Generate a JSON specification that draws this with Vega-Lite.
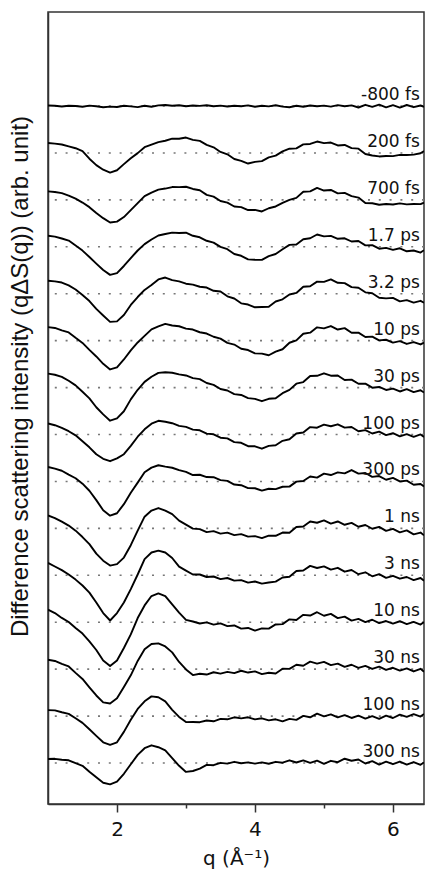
{
"$schema":"https://vega.github.io/schema/vega-lite/v6.json",
"width":376,"height":792,
"autosize":{"type":"none"},
"padding":{"left":48,"top":12,"right":1,"bottom":75},
"config":{"view":{"stroke":"#333","strokeWidth":1.5},"font":"DejaVu Sans"},
"datasets":{
"series":[{"s":"-800 fs","k":0},{"s":"200 fs","k":1},{"s":"700 fs","k":2},{"s":"1.7 ps","k":3},{"s":"3.2 ps","k":4},{"s":"10 ps","k":5},{"s":"30 ps","k":6},{"s":"100 ps","k":7},{"s":"300 ps","k":8},{"s":"1 ns","k":9},{"s":"3 ns","k":10},{"s":"10 ns","k":11},{"s":"30 ns","k":12},{"s":"100 ns","k":13},{"s":"300 ns","k":14}],
"pts":[
{"s":"-800 fs","q":1.0,"v":0.5},{"s":"-800 fs","q":1.1,"v":0.2},{"s":"-800 fs","q":1.2,"v":-0.5},{"s":"-800 fs","q":1.3,"v":0.3},{"s":"-800 fs","q":1.4,"v":0},{"s":"-800 fs","q":1.5,"v":-0.8},{"s":"-800 fs","q":1.6,"v":0.4},{"s":"-800 fs","q":1.7,"v":-0.3},{"s":"-800 fs","q":1.8,"v":-1.2},{"s":"-800 fs","q":1.9,"v":-0.6},{"s":"-800 fs","q":2.0,"v":-1.0},{"s":"-800 fs","q":2.1,"v":0.2},{"s":"-800 fs","q":2.2,"v":-0.4},{"s":"-800 fs","q":2.3,"v":-1.1},{"s":"-800 fs","q":2.4,"v":0.3},{"s":"-800 fs","q":2.5,"v":-0.8},{"s":"-800 fs","q":2.6,"v":0.6},{"s":"-800 fs","q":2.7,"v":1.0},{"s":"-800 fs","q":2.8,"v":0.2},{"s":"-800 fs","q":2.9,"v":0.8},{"s":"-800 fs","q":3.0,"v":-0.2},{"s":"-800 fs","q":3.1,"v":0.5},{"s":"-800 fs","q":3.2,"v":0.1},{"s":"-800 fs","q":3.3,"v":0.7},{"s":"-800 fs","q":3.4,"v":-0.3},{"s":"-800 fs","q":3.5,"v":0.4},{"s":"-800 fs","q":3.6,"v":-0.5},{"s":"-800 fs","q":3.7,"v":0.2},{"s":"-800 fs","q":3.8,"v":-0.2},{"s":"-800 fs","q":3.9,"v":0.6},{"s":"-800 fs","q":4.0,"v":-0.7},{"s":"-800 fs","q":4.1,"v":0.3},{"s":"-800 fs","q":4.2,"v":-0.4},{"s":"-800 fs","q":4.3,"v":0.8},{"s":"-800 fs","q":4.4,"v":-0.6},{"s":"-800 fs","q":4.5,"v":-1.2},{"s":"-800 fs","q":4.6,"v":0.2},{"s":"-800 fs","q":4.7,"v":-0.8},{"s":"-800 fs","q":4.8,"v":0.5},{"s":"-800 fs","q":4.9,"v":-0.3},{"s":"-800 fs","q":5.0,"v":0.4},{"s":"-800 fs","q":5.1,"v":-0.6},{"s":"-800 fs","q":5.2,"v":0.9},{"s":"-800 fs","q":5.3,"v":-0.2},{"s":"-800 fs","q":5.4,"v":0.6},{"s":"-800 fs","q":5.5,"v":-1.5},{"s":"-800 fs","q":5.6,"v":1.2},{"s":"-800 fs","q":5.7,"v":-0.9},{"s":"-800 fs","q":5.8,"v":1.4},{"s":"-800 fs","q":5.9,"v":-1.3},{"s":"-800 fs","q":6.0,"v":0.8},{"s":"-800 fs","q":6.1,"v":-1.6},{"s":"-800 fs","q":6.2,"v":1.0},{"s":"-800 fs","q":6.3,"v":-1.2},{"s":"-800 fs","q":6.4,"v":0.5},{"s":"-800 fs","q":6.45,"v":-0.8},
{"s":"200 fs","q":1.0,"v":10},{"s":"200 fs","q":1.1,"v":9.3},{"s":"200 fs","q":1.2,"v":8.4},{"s":"200 fs","q":1.3,"v":6.6},{"s":"200 fs","q":1.4,"v":4.7},{"s":"200 fs","q":1.5,"v":1.8},{"s":"200 fs","q":1.6,"v":-5.8},{"s":"200 fs","q":1.7,"v":-12.2},{"s":"200 fs","q":1.8,"v":-16.8},{"s":"200 fs","q":1.9,"v":-19.6},{"s":"200 fs","q":2.0,"v":-17.3},{"s":"200 fs","q":2.1,"v":-11.2},{"s":"200 fs","q":2.2,"v":-5.3},{"s":"200 fs","q":2.3,"v":-0.2},{"s":"200 fs","q":2.4,"v":5.7},{"s":"200 fs","q":2.5,"v":8.3},{"s":"200 fs","q":2.6,"v":10.8},{"s":"200 fs","q":2.7,"v":12.2},{"s":"200 fs","q":2.8,"v":14.3},{"s":"200 fs","q":2.9,"v":14.2},{"s":"200 fs","q":3.0,"v":15.4},{"s":"200 fs","q":3.1,"v":13.1},{"s":"200 fs","q":3.2,"v":12.0},{"s":"200 fs","q":3.3,"v":8.1},{"s":"200 fs","q":3.4,"v":5.6},{"s":"200 fs","q":3.5,"v":1.0},{"s":"200 fs","q":3.6,"v":-1.4},{"s":"200 fs","q":3.7,"v":-6.1},{"s":"200 fs","q":3.8,"v":-8.0},{"s":"200 fs","q":3.9,"v":-10.6},{"s":"200 fs","q":4.0,"v":-9.0},{"s":"200 fs","q":4.1,"v":-8.2},{"s":"200 fs","q":4.2,"v":-4.4},{"s":"200 fs","q":4.3,"v":-2.7},{"s":"200 fs","q":4.4,"v":1.6},{"s":"200 fs","q":4.5,"v":4.2},{"s":"200 fs","q":4.6,"v":4.6},{"s":"200 fs","q":4.7,"v":8.6},{"s":"200 fs","q":4.8,"v":9.0},{"s":"200 fs","q":4.9,"v":11.4},{"s":"200 fs","q":5.0,"v":9.8},{"s":"200 fs","q":5.1,"v":10.4},{"s":"200 fs","q":5.2,"v":7.5},{"s":"200 fs","q":5.3,"v":8.0},{"s":"200 fs","q":5.4,"v":4.8},{"s":"200 fs","q":5.5,"v":4.3},{"s":"200 fs","q":5.6,"v":-1.1},{"s":"200 fs","q":5.7,"v":-2.6},{"s":"200 fs","q":5.8,"v":-3.5},{"s":"200 fs","q":5.9,"v":-3.0},{"s":"200 fs","q":6.0,"v":-3.2},{"s":"200 fs","q":6.1,"v":-2.0},{"s":"200 fs","q":6.2,"v":-2.0},{"s":"200 fs","q":6.3,"v":-1.7},{"s":"200 fs","q":6.4,"v":-0.3},{"s":"200 fs","q":6.45,"v":1.8},
{"s":"700 fs","q":1.0,"v":8.5},{"s":"700 fs","q":1.1,"v":7.8},{"s":"700 fs","q":1.2,"v":6.7},{"s":"700 fs","q":1.3,"v":4.3},{"s":"700 fs","q":1.4,"v":1.2},{"s":"700 fs","q":1.5,"v":-2.7},{"s":"700 fs","q":1.6,"v":-7.3},{"s":"700 fs","q":1.7,"v":-13.2},{"s":"700 fs","q":1.8,"v":-18.3},{"s":"700 fs","q":1.9,"v":-22.7},{"s":"700 fs","q":2.0,"v":-21.8},{"s":"700 fs","q":2.1,"v":-17.2},{"s":"700 fs","q":2.2,"v":-10.3},{"s":"700 fs","q":2.3,"v":-3.2},{"s":"700 fs","q":2.4,"v":3.7},{"s":"700 fs","q":2.5,"v":7.3},{"s":"700 fs","q":2.6,"v":10.2},{"s":"700 fs","q":2.7,"v":11.3},{"s":"700 fs","q":2.8,"v":12.8},{"s":"700 fs","q":2.9,"v":12.7},{"s":"700 fs","q":3.0,"v":13.1},{"s":"700 fs","q":3.1,"v":10.9},{"s":"700 fs","q":3.2,"v":9.6},{"s":"700 fs","q":3.3,"v":5.0},{"s":"700 fs","q":3.4,"v":3.2},{"s":"700 fs","q":3.5,"v":-1.1},{"s":"700 fs","q":3.6,"v":-2.8},{"s":"700 fs","q":3.7,"v":-6.6},{"s":"700 fs","q":3.8,"v":-7.3},{"s":"700 fs","q":3.9,"v":-10.2},{"s":"700 fs","q":4.0,"v":-10.0},{"s":"700 fs","q":4.1,"v":-11.6},{"s":"700 fs","q":4.2,"v":-8.4},{"s":"700 fs","q":4.3,"v":-6.6},{"s":"700 fs","q":4.4,"v":-3.0},{"s":"700 fs","q":4.5,"v":-0.1},{"s":"700 fs","q":4.6,"v":2.0},{"s":"700 fs","q":4.7,"v":8.1},{"s":"700 fs","q":4.8,"v":8.5},{"s":"700 fs","q":4.9,"v":11.9},{"s":"700 fs","q":5.0,"v":9.3},{"s":"700 fs","q":5.1,"v":9.9},{"s":"700 fs","q":5.2,"v":6.5},{"s":"700 fs","q":5.3,"v":7.0},{"s":"700 fs","q":5.4,"v":3.8},{"s":"700 fs","q":5.5,"v":2.3},{"s":"700 fs","q":5.6,"v":-3.1},{"s":"700 fs","q":5.7,"v":-3.4},{"s":"700 fs","q":5.8,"v":-4.9},{"s":"700 fs","q":5.9,"v":-4.1},{"s":"700 fs","q":6.0,"v":-4.6},{"s":"700 fs","q":6.1,"v":-3.5},{"s":"700 fs","q":6.2,"v":-4.5},{"s":"700 fs","q":6.3,"v":-4.2},{"s":"700 fs","q":6.4,"v":-4.3},{"s":"700 fs","q":6.45,"v":-2.8},
{"s":"1.7 ps","q":1.0,"v":11},{"s":"1.7 ps","q":1.1,"v":10.2},{"s":"1.7 ps","q":1.2,"v":8.3},{"s":"1.7 ps","q":1.3,"v":6.2},{"s":"1.7 ps","q":1.4,"v":1.3},{"s":"1.7 ps","q":1.5,"v":-3.8},{"s":"1.7 ps","q":1.6,"v":-10.2},{"s":"1.7 ps","q":1.7,"v":-16.8},{"s":"1.7 ps","q":1.8,"v":-23.2},{"s":"1.7 ps","q":1.9,"v":-28.1},{"s":"1.7 ps","q":2.0,"v":-26.3},{"s":"1.7 ps","q":2.1,"v":-19.2},{"s":"1.7 ps","q":2.2,"v":-11.3},{"s":"1.7 ps","q":2.3,"v":-3.7},{"s":"1.7 ps","q":2.4,"v":2.7},{"s":"1.7 ps","q":2.5,"v":7.3},{"s":"1.7 ps","q":2.6,"v":11.3},{"s":"1.7 ps","q":2.7,"v":12.8},{"s":"1.7 ps","q":2.8,"v":14.2},{"s":"1.7 ps","q":2.9,"v":13.8},{"s":"1.7 ps","q":3.0,"v":14.1},{"s":"1.7 ps","q":3.1,"v":11.0},{"s":"1.7 ps","q":3.2,"v":9.5},{"s":"1.7 ps","q":3.3,"v":6.0},{"s":"1.7 ps","q":3.4,"v":4.2},{"s":"1.7 ps","q":3.5,"v":-0.1},{"s":"1.7 ps","q":3.6,"v":-2.4},{"s":"1.7 ps","q":3.7,"v":-7.2},{"s":"1.7 ps","q":3.8,"v":-9.0},{"s":"1.7 ps","q":3.9,"v":-12.6},{"s":"1.7 ps","q":4.0,"v":-13.0},{"s":"1.7 ps","q":4.1,"v":-13.1},{"s":"1.7 ps","q":4.2,"v":-9.4},{"s":"1.7 ps","q":4.3,"v":-7.2},{"s":"1.7 ps","q":4.4,"v":-2.5},{"s":"1.7 ps","q":4.5,"v":1.9},{"s":"1.7 ps","q":4.6,"v":2.3},{"s":"1.7 ps","q":4.7,"v":7.6},{"s":"1.7 ps","q":4.8,"v":8.5},{"s":"1.7 ps","q":4.9,"v":12.3},{"s":"1.7 ps","q":5.0,"v":10.4},{"s":"1.7 ps","q":5.1,"v":10.9},{"s":"1.7 ps","q":5.2,"v":8.0},{"s":"1.7 ps","q":5.3,"v":8.5},{"s":"1.7 ps","q":5.4,"v":5.3},{"s":"1.7 ps","q":5.5,"v":5.8},{"s":"1.7 ps","q":5.6,"v":1.4},{"s":"1.7 ps","q":5.7,"v":1.6},{"s":"1.7 ps","q":5.8,"v":-1.9},{"s":"1.7 ps","q":5.9,"v":-1.1},{"s":"1.7 ps","q":6.0,"v":-3.1},{"s":"1.7 ps","q":6.1,"v":-1.5},{"s":"1.7 ps","q":6.2,"v":-4.5},{"s":"1.7 ps","q":6.3,"v":-3.7},{"s":"1.7 ps","q":6.4,"v":-5.8},{"s":"1.7 ps","q":6.45,"v":-3.4},
{"s":"3.2 ps","q":1.0,"v":13},{"s":"3.2 ps","q":1.1,"v":12.3},{"s":"3.2 ps","q":1.2,"v":11.2},{"s":"3.2 ps","q":1.3,"v":8.3},{"s":"3.2 ps","q":1.4,"v":4.2},{"s":"3.2 ps","q":1.5,"v":-1.2},{"s":"3.2 ps","q":1.6,"v":-7.3},{"s":"3.2 ps","q":1.7,"v":-15.2},{"s":"3.2 ps","q":1.8,"v":-21.8},{"s":"3.2 ps","q":1.9,"v":-28.2},{"s":"3.2 ps","q":2.0,"v":-27.7},{"s":"3.2 ps","q":2.1,"v":-21.3},{"s":"3.2 ps","q":2.2,"v":-11.2},{"s":"3.2 ps","q":2.3,"v":-3.3},{"s":"3.2 ps","q":2.4,"v":3.8},{"s":"3.2 ps","q":2.5,"v":8.7},{"s":"3.2 ps","q":2.6,"v":14.3},{"s":"3.2 ps","q":2.7,"v":16.2},{"s":"3.2 ps","q":2.8,"v":13.6},{"s":"3.2 ps","q":2.9,"v":12.4},{"s":"3.2 ps","q":3.0,"v":10.0},{"s":"3.2 ps","q":3.1,"v":9.1},{"s":"3.2 ps","q":3.2,"v":7.0},{"s":"3.2 ps","q":3.3,"v":6.2},{"s":"3.2 ps","q":3.4,"v":2.9},{"s":"3.2 ps","q":3.5,"v":2.2},{"s":"3.2 ps","q":3.6,"v":-2.6},{"s":"3.2 ps","q":3.7,"v":-4.8},{"s":"3.2 ps","q":3.8,"v":-9.6},{"s":"3.2 ps","q":3.9,"v":-10.8},{"s":"3.2 ps","q":4.0,"v":-13.6},{"s":"3.2 ps","q":4.1,"v":-13.3},{"s":"3.2 ps","q":4.2,"v":-13.0},{"s":"3.2 ps","q":4.3,"v":-7.8},{"s":"3.2 ps","q":4.4,"v":-5.6},{"s":"3.2 ps","q":4.5,"v":-0.8},{"s":"3.2 ps","q":4.6,"v":0.8},{"s":"3.2 ps","q":4.7,"v":6.9},{"s":"3.2 ps","q":4.8,"v":7.5},{"s":"3.2 ps","q":4.9,"v":12.1},{"s":"3.2 ps","q":5.0,"v":11.8},{"s":"3.2 ps","q":5.1,"v":14.3},{"s":"3.2 ps","q":5.2,"v":10.9},{"s":"3.2 ps","q":5.3,"v":10.6},{"s":"3.2 ps","q":5.4,"v":6.6},{"s":"3.2 ps","q":5.5,"v":5.9},{"s":"3.2 ps","q":5.6,"v":1.4},{"s":"3.2 ps","q":5.7,"v":0.5},{"s":"3.2 ps","q":5.8,"v":-4.0},{"s":"3.2 ps","q":5.9,"v":-4.7},{"s":"3.2 ps","q":6.0,"v":-4.2},{"s":"3.2 ps","q":6.1,"v":-7.6},{"s":"3.2 ps","q":6.2,"v":-6.4},{"s":"3.2 ps","q":6.3,"v":-8.9},{"s":"3.2 ps","q":6.4,"v":-7.1},{"s":"3.2 ps","q":6.45,"v":-9.0},
{"s":"10 ps","q":1.0,"v":13.5},{"s":"10 ps","q":1.1,"v":12.7},{"s":"10 ps","q":1.2,"v":10.3},{"s":"10 ps","q":1.3,"v":8.2},{"s":"10 ps","q":1.4,"v":2.8},{"s":"10 ps","q":1.5,"v":-2.3},{"s":"10 ps","q":1.6,"v":-9.2},{"s":"10 ps","q":1.7,"v":-15.8},{"s":"10 ps","q":1.8,"v":-23.2},{"s":"10 ps","q":1.9,"v":-28.8},{"s":"10 ps","q":2.0,"v":-26.7},{"s":"10 ps","q":2.1,"v":-18.8},{"s":"10 ps","q":2.2,"v":-9.7},{"s":"10 ps","q":2.3,"v":-1.8},{"s":"10 ps","q":2.4,"v":4.8},{"s":"10 ps","q":2.5,"v":11.3},{"s":"10 ps","q":2.6,"v":14.2},{"s":"10 ps","q":2.7,"v":16.8},{"s":"10 ps","q":2.8,"v":15.2},{"s":"10 ps","q":2.9,"v":14.4},{"s":"10 ps","q":3.0,"v":12.0},{"s":"10 ps","q":3.1,"v":11.1},{"s":"10 ps","q":3.2,"v":8.4},{"s":"10 ps","q":3.3,"v":7.1},{"s":"10 ps","q":3.4,"v":3.9},{"s":"10 ps","q":3.5,"v":2.0},{"s":"10 ps","q":3.6,"v":-2.2},{"s":"10 ps","q":3.7,"v":-3.9},{"s":"10 ps","q":3.8,"v":-8.1},{"s":"10 ps","q":3.9,"v":-9.4},{"s":"10 ps","q":4.0,"v":-12.7},{"s":"10 ps","q":4.1,"v":-13.0},{"s":"10 ps","q":4.2,"v":-14.6},{"s":"10 ps","q":4.3,"v":-11.0},{"s":"10 ps","q":4.4,"v":-8.6},{"s":"10 ps","q":4.5,"v":-2.1},{"s":"10 ps","q":4.6,"v":0.3},{"s":"10 ps","q":4.7,"v":6.9},{"s":"10 ps","q":4.8,"v":8.0},{"s":"10 ps","q":4.9,"v":13.3},{"s":"10 ps","q":5.0,"v":12.3},{"s":"10 ps","q":5.1,"v":14.6},{"s":"10 ps","q":5.2,"v":11.1},{"s":"10 ps","q":5.3,"v":12.5},{"s":"10 ps","q":5.4,"v":7.9},{"s":"10 ps","q":5.5,"v":8.0},{"s":"10 ps","q":5.6,"v":3.6},{"s":"10 ps","q":5.7,"v":4.0},{"s":"10 ps","q":5.8,"v":0.3},{"s":"10 ps","q":5.9,"v":0.9},{"s":"10 ps","q":6.0,"v":-2.0},{"s":"10 ps","q":6.1,"v":-0.5},{"s":"10 ps","q":6.2,"v":-3.3},{"s":"10 ps","q":6.3,"v":-1.4},{"s":"10 ps","q":6.4,"v":-3.8},{"s":"10 ps","q":6.45,"v":-1.9},
{"s":"30 ps","q":1.0,"v":14},{"s":"30 ps","q":1.1,"v":12.8},{"s":"30 ps","q":1.2,"v":10.7},{"s":"30 ps","q":1.3,"v":6.8},{"s":"30 ps","q":1.4,"v":2.2},{"s":"30 ps","q":1.5,"v":-4.2},{"s":"30 ps","q":1.6,"v":-10.8},{"s":"30 ps","q":1.7,"v":-19.7},{"s":"30 ps","q":1.8,"v":-26.8},{"s":"30 ps","q":1.9,"v":-33.1},{"s":"30 ps","q":2.0,"v":-30.8},{"s":"30 ps","q":2.1,"v":-23.7},{"s":"30 ps","q":2.2,"v":-11.8},{"s":"30 ps","q":2.3,"v":-2.2},{"s":"30 ps","q":2.4,"v":5.7},{"s":"30 ps","q":2.5,"v":10.8},{"s":"30 ps","q":2.6,"v":14.7},{"s":"30 ps","q":2.7,"v":15.3},{"s":"30 ps","q":2.8,"v":14.8},{"s":"30 ps","q":2.9,"v":13.2},{"s":"30 ps","q":3.0,"v":12.1},{"s":"30 ps","q":3.1,"v":9.4},{"s":"30 ps","q":3.2,"v":8.5},{"s":"30 ps","q":3.3,"v":4.6},{"s":"30 ps","q":3.4,"v":2.7},{"s":"30 ps","q":3.5,"v":-1.4},{"s":"30 ps","q":3.6,"v":-2.9},{"s":"30 ps","q":3.7,"v":-6.6},{"s":"30 ps","q":3.8,"v":-7.4},{"s":"30 ps","q":3.9,"v":-10.5},{"s":"30 ps","q":4.0,"v":-11.3},{"s":"30 ps","q":4.1,"v":-13.6},{"s":"30 ps","q":4.2,"v":-11.2},{"s":"30 ps","q":4.3,"v":-10.7},{"s":"30 ps","q":4.4,"v":-5.6},{"s":"30 ps","q":4.5,"v":-2.3},{"s":"30 ps","q":4.6,"v":3.9},{"s":"30 ps","q":4.7,"v":5.5},{"s":"30 ps","q":4.8,"v":11.6},{"s":"30 ps","q":4.9,"v":11.8},{"s":"30 ps","q":5.0,"v":14.3},{"s":"30 ps","q":5.1,"v":11.9},{"s":"30 ps","q":5.2,"v":12.1},{"s":"30 ps","q":5.3,"v":7.6},{"s":"30 ps","q":5.4,"v":8.0},{"s":"30 ps","q":5.5,"v":3.8},{"s":"30 ps","q":5.6,"v":4.0},{"s":"30 ps","q":5.7,"v":-0.1},{"s":"30 ps","q":5.8,"v":0.6},{"s":"30 ps","q":5.9,"v":-2.4},{"s":"30 ps","q":6.0,"v":-1.1},{"s":"30 ps","q":6.1,"v":-3.9},{"s":"30 ps","q":6.2,"v":-1.5},{"s":"30 ps","q":6.3,"v":-4.5},{"s":"30 ps","q":6.4,"v":-2.7},{"s":"30 ps","q":6.45,"v":-5.0},
{"s":"100 ps","q":1.0,"v":11},{"s":"100 ps","q":1.1,"v":9.3},{"s":"100 ps","q":1.2,"v":6.7},{"s":"100 ps","q":1.3,"v":3.3},{"s":"100 ps","q":1.4,"v":-0.8},{"s":"100 ps","q":1.5,"v":-6.7},{"s":"100 ps","q":1.6,"v":-12.8},{"s":"100 ps","q":1.7,"v":-19.7},{"s":"100 ps","q":1.8,"v":-24.3},{"s":"100 ps","q":1.9,"v":-26.7},{"s":"100 ps","q":2.0,"v":-23.8},{"s":"100 ps","q":2.1,"v":-19.7},{"s":"100 ps","q":2.2,"v":-11.3},{"s":"100 ps","q":2.3,"v":-2.2},{"s":"100 ps","q":2.4,"v":5.2},{"s":"100 ps","q":2.5,"v":10.8},{"s":"100 ps","q":2.6,"v":13.7},{"s":"100 ps","q":2.7,"v":12.8},{"s":"100 ps","q":2.8,"v":11.3},{"s":"100 ps","q":2.9,"v":8.6},{"s":"100 ps","q":3.0,"v":7.6},{"s":"100 ps","q":3.1,"v":4.9},{"s":"100 ps","q":3.2,"v":4.2},{"s":"100 ps","q":3.3,"v":0.9},{"s":"100 ps","q":3.4,"v":0.2},{"s":"100 ps","q":3.5,"v":-3.2},{"s":"100 ps","q":3.6,"v":-3.9},{"s":"100 ps","q":3.7,"v":-7.6},{"s":"100 ps","q":3.8,"v":-8.3},{"s":"100 ps","q":3.9,"v":-11.7},{"s":"100 ps","q":4.0,"v":-11.8},{"s":"100 ps","q":4.1,"v":-14.2},{"s":"100 ps","q":4.2,"v":-11.4},{"s":"100 ps","q":4.3,"v":-10.8},{"s":"100 ps","q":4.4,"v":-6.3},{"s":"100 ps","q":4.5,"v":-4.7},{"s":"100 ps","q":4.6,"v":1.0},{"s":"100 ps","q":4.7,"v":2.0},{"s":"100 ps","q":4.8,"v":7.4},{"s":"100 ps","q":4.9,"v":6.8},{"s":"100 ps","q":5.0,"v":9.9},{"s":"100 ps","q":5.1,"v":8.3},{"s":"100 ps","q":5.2,"v":10.2},{"s":"100 ps","q":5.3,"v":6.9},{"s":"100 ps","q":5.4,"v":7.5},{"s":"100 ps","q":5.5,"v":3.2},{"s":"100 ps","q":5.6,"v":4.4},{"s":"100 ps","q":5.7,"v":1.0},{"s":"100 ps","q":5.8,"v":2.9},{"s":"100 ps","q":5.9,"v":-0.6},{"s":"100 ps","q":6.0,"v":1.3},{"s":"100 ps","q":6.1,"v":-1.8},{"s":"100 ps","q":6.2,"v":0.3},{"s":"100 ps","q":6.3,"v":-2.3},{"s":"100 ps","q":6.4,"v":0.1},{"s":"100 ps","q":6.45,"v":-2.5},
{"s":"300 ps","q":1.0,"v":14.5},{"s":"300 ps","q":1.1,"v":12.8},{"s":"300 ps","q":1.2,"v":10.7},{"s":"300 ps","q":1.3,"v":6.8},{"s":"300 ps","q":1.4,"v":3.2},{"s":"300 ps","q":1.5,"v":-2.2},{"s":"300 ps","q":1.6,"v":-9.3},{"s":"300 ps","q":1.7,"v":-18.7},{"s":"300 ps","q":1.8,"v":-28.8},{"s":"300 ps","q":1.9,"v":-34.2},{"s":"300 ps","q":2.0,"v":-31.8},{"s":"300 ps","q":2.1,"v":-22.7},{"s":"300 ps","q":2.2,"v":-11.3},{"s":"300 ps","q":2.3,"v":-1.2},{"s":"300 ps","q":2.4,"v":9.2},{"s":"300 ps","q":2.5,"v":13.8},{"s":"300 ps","q":2.6,"v":16.2},{"s":"300 ps","q":2.7,"v":14.8},{"s":"300 ps","q":2.8,"v":13.7},{"s":"300 ps","q":2.9,"v":11.3},{"s":"300 ps","q":3.0,"v":9.6},{"s":"300 ps","q":3.1,"v":6.4},{"s":"300 ps","q":3.2,"v":6.7},{"s":"300 ps","q":3.3,"v":4.4},{"s":"300 ps","q":3.4,"v":4.2},{"s":"300 ps","q":3.5,"v":1.3},{"s":"300 ps","q":3.6,"v":0.6},{"s":"300 ps","q":3.7,"v":-3.1},{"s":"300 ps","q":3.8,"v":-3.8},{"s":"300 ps","q":3.9,"v":-6.7},{"s":"300 ps","q":4.0,"v":-6.8},{"s":"300 ps","q":4.1,"v":-9.2},{"s":"300 ps","q":4.2,"v":-7.3},{"s":"300 ps","q":4.3,"v":-7.7},{"s":"300 ps","q":4.4,"v":-5.3},{"s":"300 ps","q":4.5,"v":-5.2},{"s":"300 ps","q":4.6,"v":-0.2},{"s":"300 ps","q":4.7,"v":0.4},{"s":"300 ps","q":4.8,"v":4.9},{"s":"300 ps","q":4.9,"v":3.8},{"s":"300 ps","q":5.0,"v":7.8},{"s":"300 ps","q":5.1,"v":6.4},{"s":"300 ps","q":5.2,"v":9.1},{"s":"300 ps","q":5.3,"v":8.1},{"s":"300 ps","q":5.4,"v":11.4},{"s":"300 ps","q":5.5,"v":7.8},{"s":"300 ps","q":5.6,"v":8.4},{"s":"300 ps","q":5.7,"v":4.6},{"s":"300 ps","q":5.8,"v":5.4},{"s":"300 ps","q":5.9,"v":1.7},{"s":"300 ps","q":6.0,"v":3.5},{"s":"300 ps","q":6.1,"v":0.0},{"s":"300 ps","q":6.2,"v":0.8},{"s":"300 ps","q":6.3,"v":-3.3},{"s":"300 ps","q":6.4,"v":-2.6},{"s":"300 ps","q":6.45,"v":-5.1},
{"s":"1 ns","q":1.0,"v":13},{"s":"1 ns","q":1.1,"v":10.3},{"s":"1 ns","q":1.2,"v":6.7},{"s":"1 ns","q":1.3,"v":2.8},{"s":"1 ns","q":1.4,"v":-2.3},{"s":"1 ns","q":1.5,"v":-8.7},{"s":"1 ns","q":1.6,"v":-15.8},{"s":"1 ns","q":1.7,"v":-25.2},{"s":"1 ns","q":1.8,"v":-32.3},{"s":"1 ns","q":1.9,"v":-37.2},{"s":"1 ns","q":2.0,"v":-35.8},{"s":"1 ns","q":2.1,"v":-29.2},{"s":"1 ns","q":2.2,"v":-16.8},{"s":"1 ns","q":2.3,"v":-2.2},{"s":"1 ns","q":2.4,"v":11.7},{"s":"1 ns","q":2.5,"v":17.8},{"s":"1 ns","q":2.6,"v":20.3},{"s":"1 ns","q":2.7,"v":17.7},{"s":"1 ns","q":2.8,"v":14.2},{"s":"1 ns","q":2.9,"v":7.7},{"s":"1 ns","q":3.0,"v":3.7},{"s":"1 ns","q":3.1,"v":-0.3},{"s":"1 ns","q":3.2,"v":-0.8},{"s":"1 ns","q":3.3,"v":-3.8},{"s":"1 ns","q":3.4,"v":-2.8},{"s":"1 ns","q":3.5,"v":-5.3},{"s":"1 ns","q":3.6,"v":-4.3},{"s":"1 ns","q":3.7,"v":-6.8},{"s":"1 ns","q":3.8,"v":-5.8},{"s":"1 ns","q":3.9,"v":-8.3},{"s":"1 ns","q":4.0,"v":-7.8},{"s":"1 ns","q":4.1,"v":-9.8},{"s":"1 ns","q":4.2,"v":-7.3},{"s":"1 ns","q":4.3,"v":-7.4},{"s":"1 ns","q":4.4,"v":-4.2},{"s":"1 ns","q":4.5,"v":-4.4},{"s":"1 ns","q":4.6,"v":1.3},{"s":"1 ns","q":4.7,"v":1.8},{"s":"1 ns","q":4.8,"v":6.9},{"s":"1 ns","q":4.9,"v":5.6},{"s":"1 ns","q":5.0,"v":7.9},{"s":"1 ns","q":5.1,"v":4.8},{"s":"1 ns","q":5.2,"v":6.9},{"s":"1 ns","q":5.3,"v":3.6},{"s":"1 ns","q":5.4,"v":5.5},{"s":"1 ns","q":5.5,"v":1.6},{"s":"1 ns","q":5.6,"v":3.4},{"s":"1 ns","q":5.7,"v":-0.4},{"s":"1 ns","q":5.8,"v":1.5},{"s":"1 ns","q":5.9,"v":-2.5},{"s":"1 ns","q":6.0,"v":-0.5},{"s":"1 ns","q":6.1,"v":-4.0},{"s":"1 ns","q":6.2,"v":-2.0},{"s":"1 ns","q":6.3,"v":-6.0},{"s":"1 ns","q":6.4,"v":-4.2},{"s":"1 ns","q":6.45,"v":-7.0},
{"s":"3 ns","q":1.0,"v":12.5},{"s":"3 ns","q":1.1,"v":8.8},{"s":"3 ns","q":1.2,"v":5.2},{"s":"3 ns","q":1.3,"v":0.8},{"s":"3 ns","q":1.4,"v":-4.3},{"s":"3 ns","q":1.5,"v":-10.2},{"s":"3 ns","q":1.6,"v":-17.3},{"s":"3 ns","q":1.7,"v":-27.2},{"s":"3 ns","q":1.8,"v":-37.8},{"s":"3 ns","q":1.9,"v":-45.2},{"s":"3 ns","q":2.0,"v":-37.8},{"s":"3 ns","q":2.1,"v":-27.2},{"s":"3 ns","q":2.2,"v":-13.8},{"s":"3 ns","q":2.3,"v":0.8},{"s":"3 ns","q":2.4,"v":16.2},{"s":"3 ns","q":2.5,"v":22.8},{"s":"3 ns","q":2.6,"v":24.7},{"s":"3 ns","q":2.7,"v":22.8},{"s":"3 ns","q":2.8,"v":17.3},{"s":"3 ns","q":2.9,"v":8.6},{"s":"3 ns","q":3.0,"v":4.7},{"s":"3 ns","q":3.1,"v":0.8},{"s":"3 ns","q":3.2,"v":0.8},{"s":"3 ns","q":3.3,"v":-1.7},{"s":"3 ns","q":3.4,"v":-1.2},{"s":"3 ns","q":3.5,"v":-3.8},{"s":"3 ns","q":3.6,"v":-2.7},{"s":"3 ns","q":3.7,"v":-5.3},{"s":"3 ns","q":3.8,"v":-4.8},{"s":"3 ns","q":3.9,"v":-7.3},{"s":"3 ns","q":4.0,"v":-6.2},{"s":"3 ns","q":4.1,"v":-8.3},{"s":"3 ns","q":4.2,"v":-7.2},{"s":"3 ns","q":4.3,"v":-6.3},{"s":"3 ns","q":4.4,"v":-2.2},{"s":"3 ns","q":4.5,"v":-1.4},{"s":"3 ns","q":4.6,"v":4.3},{"s":"3 ns","q":4.7,"v":4.8},{"s":"3 ns","q":4.8,"v":9.4},{"s":"3 ns","q":4.9,"v":7.3},{"s":"3 ns","q":5.0,"v":8.9},{"s":"3 ns","q":5.1,"v":5.7},{"s":"3 ns","q":5.2,"v":7.5},{"s":"3 ns","q":5.3,"v":3.6},{"s":"3 ns","q":5.4,"v":5.3},{"s":"3 ns","q":5.5,"v":1.1},{"s":"3 ns","q":5.6,"v":3.0},{"s":"3 ns","q":5.7,"v":-1.0},{"s":"3 ns","q":5.8,"v":1.2},{"s":"3 ns","q":5.9,"v":-2.6},{"s":"3 ns","q":6.0,"v":-0.5},{"s":"3 ns","q":6.1,"v":-3.4},{"s":"3 ns","q":6.2,"v":-1.7},{"s":"3 ns","q":6.3,"v":-4.8},{"s":"3 ns","q":6.4,"v":-2.7},{"s":"3 ns","q":6.45,"v":-5.4},
{"s":"10 ns","q":1.0,"v":12.5},{"s":"10 ns","q":1.1,"v":9.2},{"s":"10 ns","q":1.2,"v":4.3},{"s":"10 ns","q":1.3,"v":0.2},{"s":"10 ns","q":1.4,"v":-5.7},{"s":"10 ns","q":1.5,"v":-11.3},{"s":"10 ns","q":1.6,"v":-19.2},{"s":"10 ns","q":1.7,"v":-27.8},{"s":"10 ns","q":1.8,"v":-38.2},{"s":"10 ns","q":1.9,"v":-43.8},{"s":"10 ns","q":2.0,"v":-38.2},{"s":"10 ns","q":2.1,"v":-25.8},{"s":"10 ns","q":2.2,"v":-12.2},{"s":"10 ns","q":2.3,"v":4.2},{"s":"10 ns","q":2.4,"v":16.8},{"s":"10 ns","q":2.5,"v":26.2},{"s":"10 ns","q":2.6,"v":28.8},{"s":"10 ns","q":2.7,"v":26.2},{"s":"10 ns","q":2.8,"v":17.8},{"s":"10 ns","q":2.9,"v":9.7},{"s":"10 ns","q":3.0,"v":2.4},{"s":"10 ns","q":3.1,"v":0.7},{"s":"10 ns","q":3.2,"v":-1.3},{"s":"10 ns","q":3.3,"v":-0.2},{"s":"10 ns","q":3.4,"v":-2.4},{"s":"10 ns","q":3.5,"v":-1.2},{"s":"10 ns","q":3.6,"v":-3.9},{"s":"10 ns","q":3.7,"v":-3.2},{"s":"10 ns","q":3.8,"v":-6.4},{"s":"10 ns","q":3.9,"v":-5.7},{"s":"10 ns","q":4.0,"v":-8.4},{"s":"10 ns","q":4.1,"v":-6.2},{"s":"10 ns","q":4.2,"v":-6.4},{"s":"10 ns","q":4.3,"v":-2.2},{"s":"10 ns","q":4.4,"v":-1.9},{"s":"10 ns","q":4.5,"v":2.9},{"s":"10 ns","q":4.6,"v":2.3},{"s":"10 ns","q":4.7,"v":7.4},{"s":"10 ns","q":4.8,"v":6.7},{"s":"10 ns","q":4.9,"v":10.0},{"s":"10 ns","q":5.0,"v":6.5},{"s":"10 ns","q":5.1,"v":8.3},{"s":"10 ns","q":5.2,"v":4.1},{"s":"10 ns","q":5.3,"v":5.6},{"s":"10 ns","q":5.4,"v":1.6},{"s":"10 ns","q":5.5,"v":3.3},{"s":"10 ns","q":5.6,"v":0.2},{"s":"10 ns","q":5.7,"v":2.5},{"s":"10 ns","q":5.8,"v":-0.9},{"s":"10 ns","q":5.9,"v":1.2},{"s":"10 ns","q":6.0,"v":-1.3},{"s":"10 ns","q":6.1,"v":1.0},{"s":"10 ns","q":6.2,"v":-1.9},{"s":"10 ns","q":6.3,"v":0.3},{"s":"10 ns","q":6.4,"v":-2.3},{"s":"10 ns","q":6.45,"v":0.2},
{"s":"30 ns","q":1.0,"v":9.5},{"s":"30 ns","q":1.1,"v":8.2},{"s":"30 ns","q":1.2,"v":5.3},{"s":"30 ns","q":1.3,"v":2.7},{"s":"30 ns","q":1.4,"v":-3.7},{"s":"30 ns","q":1.5,"v":-9.8},{"s":"30 ns","q":1.6,"v":-18.2},{"s":"30 ns","q":1.7,"v":-26.3},{"s":"30 ns","q":1.8,"v":-33.2},{"s":"30 ns","q":1.9,"v":-34.3},{"s":"30 ns","q":2.0,"v":-29.2},{"s":"30 ns","q":2.1,"v":-17.8},{"s":"30 ns","q":2.2,"v":-6.2},{"s":"30 ns","q":2.3,"v":8.2},{"s":"30 ns","q":2.4,"v":19.8},{"s":"30 ns","q":2.5,"v":25.2},{"s":"30 ns","q":2.6,"v":25.8},{"s":"30 ns","q":2.7,"v":22.7},{"s":"30 ns","q":2.8,"v":16.8},{"s":"30 ns","q":2.9,"v":7.2},{"s":"30 ns","q":3.0,"v":-0.3},{"s":"30 ns","q":3.1,"v":-5.9},{"s":"30 ns","q":3.2,"v":-4.6},{"s":"30 ns","q":3.3,"v":-5.4},{"s":"30 ns","q":3.4,"v":-3.1},{"s":"30 ns","q":3.5,"v":-4.4},{"s":"30 ns","q":3.6,"v":-2.7},{"s":"30 ns","q":3.7,"v":-4.0},{"s":"30 ns","q":3.8,"v":-1.6},{"s":"30 ns","q":3.9,"v":-3.4},{"s":"30 ns","q":4.0,"v":-2.2},{"s":"30 ns","q":4.1,"v":-4.9},{"s":"30 ns","q":4.2,"v":-3.6},{"s":"30 ns","q":4.3,"v":-4.4},{"s":"30 ns","q":4.4,"v":0.4},{"s":"30 ns","q":4.5,"v":0.3},{"s":"30 ns","q":4.6,"v":4.4},{"s":"30 ns","q":4.7,"v":3.4},{"s":"30 ns","q":4.8,"v":7.5},{"s":"30 ns","q":4.9,"v":5.6},{"s":"30 ns","q":5.0,"v":7.3},{"s":"30 ns","q":5.1,"v":4.0},{"s":"30 ns","q":5.2,"v":5.5},{"s":"30 ns","q":5.3,"v":2.3},{"s":"30 ns","q":5.4,"v":4.4},{"s":"30 ns","q":5.5,"v":1.2},{"s":"30 ns","q":5.6,"v":3.3},{"s":"30 ns","q":5.7,"v":0.2},{"s":"30 ns","q":5.8,"v":2.5},{"s":"30 ns","q":5.9,"v":-0.8},{"s":"30 ns","q":6.0,"v":1.4},{"s":"30 ns","q":6.1,"v":-1.5},{"s":"30 ns","q":6.2,"v":0.8},{"s":"30 ns","q":6.3,"v":-2.3},{"s":"30 ns","q":6.4,"v":0.4},{"s":"30 ns","q":6.45,"v":-2.5},
{"s":"100 ns","q":1.0,"v":6},{"s":"100 ns","q":1.1,"v":5.7},{"s":"100 ns","q":1.2,"v":3.8},{"s":"100 ns","q":1.3,"v":2.2},{"s":"100 ns","q":1.4,"v":-2.2},{"s":"100 ns","q":1.5,"v":-6.8},{"s":"100 ns","q":1.6,"v":-13.2},{"s":"100 ns","q":1.7,"v":-19.8},{"s":"100 ns","q":1.8,"v":-26.2},{"s":"100 ns","q":1.9,"v":-28.8},{"s":"100 ns","q":2.0,"v":-26.2},{"s":"100 ns","q":2.1,"v":-15.8},{"s":"100 ns","q":2.2,"v":-3.7},{"s":"100 ns","q":2.3,"v":7.2},{"s":"100 ns","q":2.4,"v":14.8},{"s":"100 ns","q":2.5,"v":19.7},{"s":"100 ns","q":2.6,"v":18.8},{"s":"100 ns","q":2.7,"v":14.7},{"s":"100 ns","q":2.8,"v":6.3},{"s":"100 ns","q":2.9,"v":-0.8},{"s":"100 ns","q":3.0,"v":-6.0},{"s":"100 ns","q":3.1,"v":-5.9},{"s":"100 ns","q":3.2,"v":-6.1},{"s":"100 ns","q":3.3,"v":-4.4},{"s":"100 ns","q":3.4,"v":-5.2},{"s":"100 ns","q":3.5,"v":-2.8},{"s":"100 ns","q":3.6,"v":-3.2},{"s":"100 ns","q":3.7,"v":-1.2},{"s":"100 ns","q":3.8,"v":-2.3},{"s":"100 ns","q":3.9,"v":-1.2},{"s":"100 ns","q":4.0,"v":-3.3},{"s":"100 ns","q":4.1,"v":-2.2},{"s":"100 ns","q":4.2,"v":-4.3},{"s":"100 ns","q":4.3,"v":-3.2},{"s":"100 ns","q":4.4,"v":-5.3},{"s":"100 ns","q":4.5,"v":-2.8},{"s":"100 ns","q":4.6,"v":-3.8},{"s":"100 ns","q":4.7,"v":0.2},{"s":"100 ns","q":4.8,"v":-1.2},{"s":"100 ns","q":4.9,"v":2.4},{"s":"100 ns","q":5.0,"v":-0.3},{"s":"100 ns","q":5.1,"v":1.7},{"s":"100 ns","q":5.2,"v":-1.3},{"s":"100 ns","q":5.3,"v":1.0},{"s":"100 ns","q":5.4,"v":-1.9},{"s":"100 ns","q":5.5,"v":0.4},{"s":"100 ns","q":5.6,"v":-2.5},{"s":"100 ns","q":5.7,"v":0.0},{"s":"100 ns","q":5.8,"v":-2.8},{"s":"100 ns","q":5.9,"v":0.5},{"s":"100 ns","q":6.0,"v":-1.9},{"s":"100 ns","q":6.1,"v":1.4},{"s":"100 ns","q":6.2,"v":-0.8},{"s":"100 ns","q":6.3,"v":1.9},{"s":"100 ns","q":6.4,"v":-0.5},{"s":"100 ns","q":6.45,"v":2.2},
{"s":"300 ns","q":1.0,"v":4},{"s":"300 ns","q":1.1,"v":4.2},{"s":"300 ns","q":1.2,"v":3.3},{"s":"300 ns","q":1.3,"v":2.7},{"s":"300 ns","q":1.4,"v":-0.2},{"s":"300 ns","q":1.5,"v":-2.8},{"s":"300 ns","q":1.6,"v":-8.7},{"s":"300 ns","q":1.7,"v":-14.3},{"s":"300 ns","q":1.8,"v":-19.7},{"s":"300 ns","q":1.9,"v":-21.3},{"s":"300 ns","q":2.0,"v":-18.7},{"s":"300 ns","q":2.1,"v":-10.8},{"s":"300 ns","q":2.2,"v":-1.2},{"s":"300 ns","q":2.3,"v":8.2},{"s":"300 ns","q":2.4,"v":14.8},{"s":"300 ns","q":2.5,"v":17.7},{"s":"300 ns","q":2.6,"v":15.8},{"s":"300 ns","q":2.7,"v":12.7},{"s":"300 ns","q":2.8,"v":4.8},{"s":"300 ns","q":2.9,"v":-2.8},{"s":"300 ns","q":3.0,"v":-8.9},{"s":"300 ns","q":3.1,"v":-8.0},{"s":"300 ns","q":3.2,"v":-5.6},{"s":"300 ns","q":3.3,"v":-1.9},{"s":"300 ns","q":3.4,"v":-2.2},{"s":"300 ns","q":3.5,"v":0.2},{"s":"300 ns","q":3.6,"v":-0.6},{"s":"300 ns","q":3.7,"v":1.2},{"s":"300 ns","q":3.8,"v":-0.2},{"s":"300 ns","q":3.9,"v":0.7},{"s":"300 ns","q":4.0,"v":-0.6},{"s":"300 ns","q":4.1,"v":0.6},{"s":"300 ns","q":4.2,"v":-0.7},{"s":"300 ns","q":4.3,"v":1.2},{"s":"300 ns","q":4.4,"v":0.3},{"s":"300 ns","q":4.5,"v":2.7},{"s":"300 ns","q":4.6,"v":0.5},{"s":"300 ns","q":4.7,"v":2.6},{"s":"300 ns","q":4.8,"v":0.1},{"s":"300 ns","q":4.9,"v":2.4},{"s":"300 ns","q":5.0,"v":-0.8},{"s":"300 ns","q":5.1,"v":2.2},{"s":"300 ns","q":5.2,"v":0.8},{"s":"300 ns","q":5.3,"v":4.3},{"s":"300 ns","q":5.4,"v":2.3},{"s":"300 ns","q":5.5,"v":3.5},{"s":"300 ns","q":5.6,"v":-0.5},{"s":"300 ns","q":5.7,"v":1.8},{"s":"300 ns","q":5.8,"v":-1.5},{"s":"300 ns","q":5.9,"v":1.3},{"s":"300 ns","q":6.0,"v":-1.2},{"s":"300 ns","q":6.1,"v":1.5},{"s":"300 ns","q":6.2,"v":-1.6},{"s":"300 ns","q":6.3,"v":1.0},{"s":"300 ns","q":6.4,"v":-1.8},{"s":"300 ns","q":6.45,"v":0.6}
]},
"layer":[
{"data":{"name":"series"},
 "transform":[{"calculate":"698 - 46.93 * datum.k","as":"b"}],
 "mark":{"type":"rule","strokeDash":[2,8.8],"color":"#777","strokeWidth":1.6},
 "encoding":{"y":{"field":"b","type":"quantitative","scale":{"domain":[0,792],"nice":false,"zero":false},"title":"Difference scattering intensity (qΔS(q)) (arb. unit)"}}},
{"data":{"name":"pts"},
 "transform":[{"lookup":"s","from":{"data":{"name":"series"},"key":"s","fields":["k"]}},{"calculate":"datum.v + 698 - 46.93 * datum.k","as":"yy"}],
 "mark":{"type":"line","color":"#000","strokeWidth":1.9,"clip":true,"strokeJoin":"round"},
 "encoding":{
  "x":{"field":"q","type":"quantitative","scale":{"domain":[1,6.45],"nice":false,"zero":false},
   "axis":{"title":"q (Å⁻¹)","values":[2,3,4,5,6],"format":"d","labelExpr":"datum.value % 2 == 0 ? datum.label : ''","tickSize":{"condition":{"test":"datum.value % 2 == 1","value":4},"value":8},"tickColor":"#333","tickWidth":1.5,"domainColor":"#333","domainWidth":1.5,"labelFontSize":20,"labelFont":"DejaVu Sans","labelColor":"#111","labelPadding":7,"titleFontSize":20,"titleFont":"DejaVu Sans","titleFontWeight":"normal","titleColor":"#111","titlePadding":9,"grid":false}},
  "y":{"field":"yy","type":"quantitative","title":"Difference scattering intensity (qΔS(q)) (arb. unit)",
   "axis":{"labels":false,"ticks":false,"grid":false,"domainColor":"#333","domainWidth":1.5,"titleFont":"Liberation Sans","titleFontSize":24,"titleFontWeight":"normal","titleColor":"#111","titleX":-21,"titleY":364,"titleBaseline":"alphabetic","titleAngle":-90,"titleAlign":"center"}},
  "detail":{"field":"s"}}},
{"data":{"name":"series"},
 "transform":[{"calculate":"698 - 46.93 * datum.k","as":"b"}],
 "mark":{"type":"text","align":"right","baseline":"alphabetic","dy":-6,"fontSize":17,"font":"DejaVu Sans","color":"#111"},
 "encoding":{"x":{"datum":6.39,"type":"quantitative"},"y":{"field":"b","type":"quantitative","title":"Difference scattering intensity (qΔS(q)) (arb. unit)"},"text":{"field":"s"}}}
]
}
